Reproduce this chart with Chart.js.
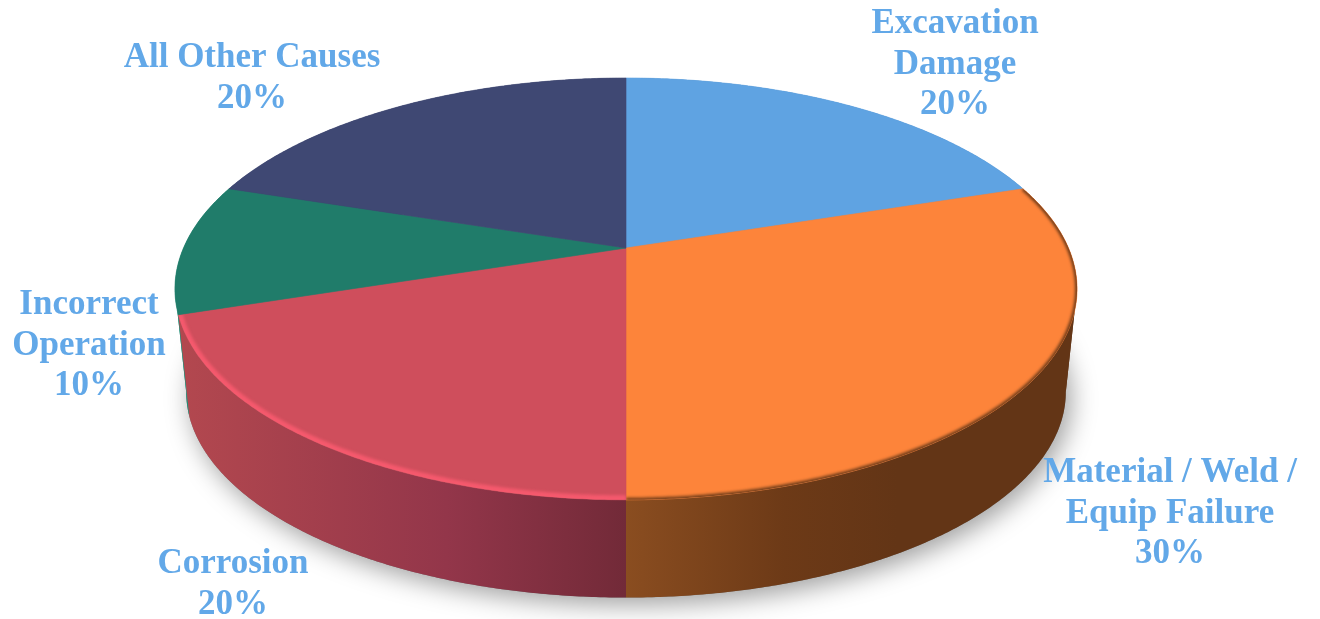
<!DOCTYPE html>
<html>
<head>
<meta charset="utf-8">
<style>
  html, body { margin: 0; padding: 0; background: #fff; }
  canvas { display: block; }
</style>
<script src="https://cdn.jsdelivr.net/npm/chart.js@4/dist/chart.umd.min.js"></script>
</head>
<body>
<canvas id="pie" width="1320" height="619"></canvas>
<script>
const categories = [
    ['Excavation', 'Damage'],
    ['Material / Weld /', 'Equip Failure'],
    ['Corrosion'],
    ['Incorrect', 'Operation'],
    ['All Other Causes'],
];
const percents = [20, 30, 20, 10, 20];
const sliceColors = ['#5fa3e2', '#fd843a', '#cf4e5c', '#207c6a', '#3f4873'];

// text block of each label: centre x, first baseline
const labelSpots = [[955, 33], [1170, 482], [233, 573], [89, 314], [252, 67]];
const labelColor = '#62a8e8';
const lineGap = 40.5;

// side wall shading, left to right
const wallShades = [
    [[0, '#3f7fb5'], [1, '#3f7fb5']],
    [[0, '#8a4d20'], [0.35, '#6d3a17'], [0.6, '#633516'], [1, '#633516']],
    [[0, '#b3484f'], [0.6, '#93364a'], [1, '#722a38']],
    [[0, '#1f8c75'], [1, '#1f8c75']],
    [[0, '#2c3358'], [1, '#2c3358']],
];
const rimColors = [null, '#6b3a18', '#f5596d', null, null];
const rimWidths = [0, 4, 9, 0, 0];

// perspective of the disc, fitted by eye against the picture
const apex = { x: 626, y: 248 };
const spreadX = 442.5, spreadY = 203, tilt = 0.194;
const floorScale = 0.975, floorApexY = 352;
// angles where the wall edge touches the outline of the disc
const foldAngles = [Math.asin(tilt), Math.PI - Math.asin(tilt)];

function topPoint(a) {
    const u = Math.cos(a), v = Math.sin(a), d = 1 - tilt * v;
    return [apex.x + spreadX * u / d, apex.y + spreadY * v / d];
}
function floorPoint(a) {
    const p = topPoint(a);
    return [apex.x + (p[0] - apex.x) * floorScale, floorApexY + (p[1] - apex.y) * floorScale];
}
function trace(ctx, fn, from, to, first) {
    const steps = Math.max(2, Math.ceil(Math.abs(to - from) / 0.008));
    for (let i = 0; i <= steps; i++) {
        const p = fn(from + (to - from) * i / steps);
        if (i === 0 && first) ctx.moveTo(p[0], p[1]);
        else ctx.lineTo(p[0], p[1]);
    }
}

const discPlugin = {
    id: 'disc',
    beforeDatasetsDraw(chart) {
        const ctx = chart.ctx;
        const arcs = chart.getDatasetMeta(0).data;

        // soft shadow under the disc
        ctx.save();
        ctx.shadowColor = 'rgba(0,0,0,0.38)';
        ctx.shadowBlur = 26;
        ctx.shadowOffsetX = 5;
        ctx.shadowOffsetY = 7;
        ctx.fillStyle = '#777';
        ctx.beginPath();
        trace(ctx, floorPoint, 0, Math.PI * 2, true);
        ctx.closePath();
        ctx.fill();
        ctx.restore();

        // walls, far ones first; each cut at the fold so the outline stays filled
        const order = arcs.map((arc, i) => i).sort((p, q) =>
            Math.sin((arcs[p].startAngle + arcs[p].endAngle) / 2) - Math.sin((arcs[q].startAngle + arcs[q].endAngle) / 2));
        order.forEach(i => {
            const arc = arcs[i];
            const xs = [];
            for (let t = arc.startAngle; t < arc.endAngle; t += 0.02) xs.push(topPoint(t)[0]);
            xs.push(topPoint(arc.endAngle)[0]);
            const grad = ctx.createLinearGradient(Math.min(...xs), 0, Math.max(...xs), 0);
            wallShades[i].forEach(s => grad.addColorStop(s[0], s[1]));
            ctx.fillStyle = grad;

            const cuts = [arc.startAngle];
            foldAngles.concat(foldAngles.map(f => f + Math.PI * 2)).sort((p, q) => p - q).forEach(f => {
                if (f > arc.startAngle && f < arc.endAngle) cuts.push(f);
            });
            cuts.push(arc.endAngle);
            for (let c = 0; c < cuts.length - 1; c++) {
                ctx.beginPath();
                trace(ctx, topPoint, cuts[c], cuts[c + 1], true);
                trace(ctx, floorPoint, cuts[c + 1], cuts[c], false);
                ctx.closePath();
                ctx.fill();
            }
        });

        // top faces with a soft rim
        arcs.forEach((arc, i) => {
            const color = arc.options.backgroundColor;
            ctx.save();
            ctx.fillStyle = color;
            ctx.strokeStyle = color;
            ctx.lineWidth = 0.6;
            ctx.beginPath();
            ctx.moveTo(apex.x, apex.y);
            trace(ctx, topPoint, arc.startAngle, arc.endAngle, false);
            ctx.closePath();
            ctx.fill();
            ctx.stroke();
            if (rimColors[i]) {
                ctx.clip();
                ctx.filter = 'blur(1.5px)';
                ctx.strokeStyle = rimColors[i];
                ctx.lineWidth = rimWidths[i];
                ctx.beginPath();
                trace(ctx, topPoint, arc.startAngle, arc.endAngle, true);
                ctx.stroke();
            }
            ctx.restore();
        });

        // labels
        ctx.save();
        ctx.fillStyle = labelColor;
        ctx.font = 'bold 35px "Liberation Serif"';
        ctx.textAlign = 'center';
        ctx.textBaseline = 'alphabetic';
        chart.data.labels.forEach((lines, i) => {
            const all = lines.concat([chart.data.datasets[0].data[i] + '%']);
            all.forEach((line, n) => ctx.fillText(line, labelSpots[i][0], labelSpots[i][1] + n * lineGap));
        });
        ctx.restore();

        return false; // faces are drawn above, in perspective
    }
};

const configPie = {
    type: 'pie',
    data: {
        labels: categories,
        datasets: [{ data: percents, backgroundColor: sliceColors, borderWidth: 0 }]
    },
    options: {
        responsive: false,
        animation: false,
        events: [],
        plugins: { legend: { display: false }, tooltip: { enabled: false } }
    },
    plugins: [discPlugin]
};

const myChart = new Chart(document.getElementById('pie'), configPie);
</script>
</body>
</html>
